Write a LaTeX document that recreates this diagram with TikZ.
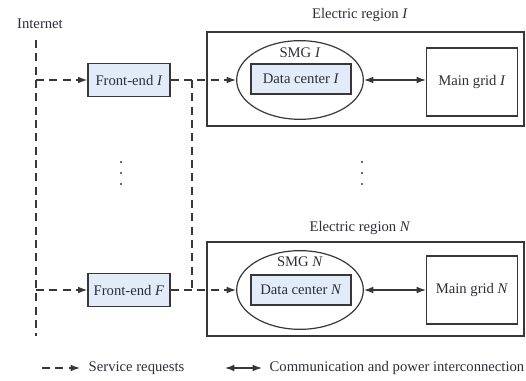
\documentclass[tikz,border=0pt]{standalone}
\usepackage{fontspec}
\setmainfont{Liberation Serif}
\definecolor{boxblue}{RGB}{226, 236, 248}
\definecolor{lineg}{RGB}{55, 55, 55}
\definecolor{textg}{RGB}{45, 45, 60}
\usetikzlibrary{shapes.geometric, arrows.meta, positioning}

\begin{document}
\begin{tikzpicture}[x=0.75pt, y=-0.75pt, font=\fontsize{11}{13}\selectfont, text=textg,
  fbox/.style={draw=lineg, fill=boxblue, line width=1pt, minimum width=61.5pt, minimum height=25pt, inner sep=2pt},
  dbox/.style={draw=lineg, fill=boxblue, line width=1pt, minimum width=75pt, minimum height=22.5pt, inner sep=2pt},
  gbox/.style={draw=lineg, line width=1pt, minimum width=68pt, minimum height=51pt},
  region/.style={draw=lineg, line width=1.1pt, minimum width=238pt, minimum height=70.5pt},
  smg/.style={draw=lineg, ellipse, line width=0.9pt, minimum width=95pt, minimum height=59pt},
  req/.style={draw=lineg, line width=0.9pt, dash pattern=on 6pt off 4pt},
  link/.style={draw=lineg, line width=0.9pt, {Latex[length=7pt,width=5pt]}-{Latex[length=7pt,width=5pt]}}]
  \useasboundingbox (0,0) rectangle (526,381);

  % Internet
  \node (inet) at (40,24) {Internet};
  \coordinate (itop) at (36,40);
  \coordinate (ibot) at (36,336);
  \coordinate (i1) at (36,80);
  \coordinate (iN) at (36,290);
  \draw[req] (itop) -- (ibot);

  % Front-ends
  \node[fbox] (fe1) at (129,80) {Front-end \textit{I}};
  \node[fbox] (feF) at (129,290) {Front-end \textit{F}};

  % Electric region I
  \node (lab1) at (360,15) {Electric region \textit{I}};
  \node[region] (reg1) at (365.5,79) {};
  \node[smg] (smg1) at (300,80) {};
  \node (smgl1) at (300,53) {SMG \textit{I}};
  \node[dbox] (dc1) at (301,79) {Data center \textit{I}};
  \node[gbox] (mg1) at (472,82) {Main grid \textit{I}};

  % Electric region N
  \node (labN) at (360,228) {Electric region \textit{N}};
  \node[region] (regN) at (365.5,289) {};
  \node[smg] (smgN) at (300,290) {};
  \node (smglN) at (300,262) {SMG \textit{N}};
  \node[dbox] (dcN) at (301,290) {Data center \textit{N}};
  \node[gbox] (mgN) at (472,290) {Main grid \textit{N}};

  % Service requests
  \coordinate (j1) at (192,80);
  \coordinate (jN) at (192,290);
  \draw[req, -{Latex[length=7pt,width=5pt]}] (i1) -- (fe1);
  \draw[req, -{Latex[length=7pt,width=5pt]}] (iN) -- (feF);
  \draw[req, -{Latex[length=7pt,width=5pt]}] (fe1) -- (smg1);
  \draw[req, -{Latex[length=7pt,width=5pt]}] (feF) -- (smgN);
  \draw[req] (j1) -- (jN);

  % Communication and power
  \draw[link] (smg1.east) -- (mg1.west |- smg1.east);
  \draw[link] (smgN.east) -- (mgN.west |- smgN.east);

  % Dots
  \foreach \y in {162,173,184} {
    \fill[lineg] (121,\y) circle (0.9pt);
    \fill[lineg] (362,\y) circle (0.9pt);
  }

  % Legend
  \coordinate (la) at (42,368);
  \coordinate (lb) at (80,368);
  \coordinate (lc) at (225,368);
  \coordinate (ld) at (262,368);
  \draw[req, -{Latex[length=7pt,width=5pt]}] (la) -- (lb);
  \node[anchor=west] (lreq) at (84,368) {Service requests};
  \draw[link] (lc) -- (ld);
  \node[anchor=west] (llink) at (265,368) {Communication and power interconnection};
\end{tikzpicture}
\end{document}
